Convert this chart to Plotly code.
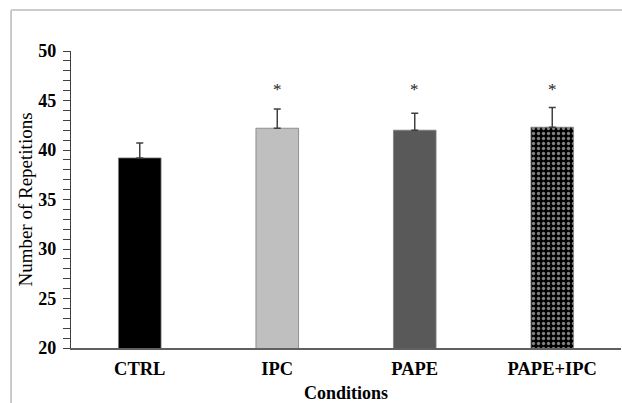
import plotly.graph_objects as go

categories = ["CTRL", "IPC", "PAPE", "PAPE+IPC"]
means = [39.2, 42.2, 42.0, 42.3]
sd_plus = [1.5, 1.95, 1.7, 2.0]
sig_marks = ["", "*", "*", "*"]
sig_y = 46.1
y_ticks = [20, 25, 30, 35, 40, 45, 50]

bar_colors = ["#000000", "#bfbfbf", "#595959", "#000000"]
patterns = ["", "", "", "."]

FONT = "Liberation Serif, Times New Roman, serif"

fig = go.Figure()
fig.add_trace(go.Bar(
    x=categories, y=means, width=0.31,
    marker=dict(
        color=bar_colors,
        line=dict(color="#7f7f7f", width=0.8),
        pattern=dict(shape=patterns, fgcolor="#ffffff", bgcolor="#000000",
                     size=5, solidity=0.35, fillmode="overlay"),
    ),
    error_y=dict(type="data", symmetric=False, array=sd_plus,
                 arrayminus=[0] * 4, color="#404040", thickness=1.5, width=3.5),
    base=0,
    showlegend=False,
))

for c, s in zip(categories, sig_marks):
    if s:
        fig.add_annotation(x=c, y=sig_y, text=s, showarrow=False,
                           font=dict(family=FONT, size=17, color="#222222"),
                           xref="x", yref="y")

# outer frame lines (partial border of the original image)
fig.add_shape(type="line", xref="paper", yref="paper",
              x0=-0.109, x1=-0.109, y0=-0.2, y1=1.138,
              line=dict(color="#b8b8b8", width=1.5))
fig.add_shape(type="line", xref="paper", yref="paper",
              x0=-0.109, x1=1.01, y0=1.138, y1=1.138,
              line=dict(color="#cccccc", width=2))

fig.update_layout(
    width=622, height=403,
    margin=dict(l=71, r=1, t=51, b=55),
    paper_bgcolor="white", plot_bgcolor="white",
    font=dict(family=FONT, color="#000000"),
    xaxis=dict(
        range=[-0.5, 3.5], showline=True, linecolor="#606060", linewidth=2,
        ticks="outside", ticklen=3, tickcolor="rgba(0,0,0,0)",
        tickfont=dict(family=FONT, size=18.5, weight="bold"),
        title=dict(text="Conditions", font=dict(family=FONT, size=18, weight="bold"),
                   standoff=8),
        showgrid=False, zeroline=False, automargin=False,
    ),
    yaxis=dict(
        range=[20, 50], tickvals=y_ticks, showline=True, linecolor="#404040",
        linewidth=1.3, ticks="outside", ticklen=7, tickwidth=1.3, tickcolor="#404040",
        minor=dict(dtick=1, ticks="outside", ticklen=7, tickwidth=1, tickcolor="#404040"),
        tickfont=dict(family=FONT, size=18, weight="bold"),
        ticklabelstandoff=3,
        title=dict(text="Number of Repetitions", font=dict(family=FONT, size=19),
                   standoff=0),
        showgrid=False, zeroline=False, automargin=False,
    ),
)

fig.write_html("out.html", config={"displayModeBar": False},
               post_script="document.body.style.margin='0';document.body.style.overflow='hidden';")
